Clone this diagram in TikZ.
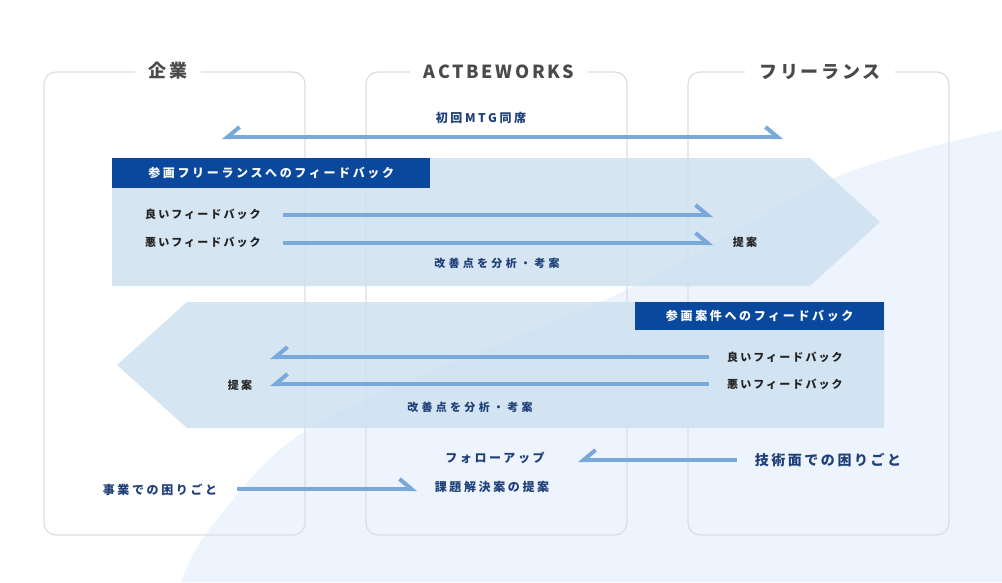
\documentclass[tikz,border=0pt]{standalone}
\usepackage{fontspec}
\setmainfont{Noto Sans CJK JP}
\usetikzlibrary{arrows.meta}
\definecolor{blob}{HTML}{EDF4FD}
\definecolor{chev}{HTML}{CEE2F0}
\definecolor{colline}{HTML}{DCDDE4}
\definecolor{ttlgray}{HTML}{4A4A4A}
\definecolor{navy}{HTML}{1F3F78}
\definecolor{darktext}{HTML}{222222}
\definecolor{hdrblue}{HTML}{0A489E}
\definecolor{arrblue}{HTML}{79A9DA}
\tikzset{
  colbox/.style={draw=colline, line width=1.2pt, rounded corners=12pt},
  ttl/.style={fill=white, text=ttlgray, inner xsep=14pt, inner ysep=2pt,
    font=\bfseries\fontsize{18}{20}\selectfont\addfontfeatures{LetterSpace=15}},
  chevron/.style={fill=chev, fill opacity=0.85},
  hdrbox/.style={fill=hdrblue, text=white, inner sep=0pt, anchor=north west,
    font=\bfseries\fontsize{12}{14}\selectfont\addfontfeatures{LetterSpace=22}},
  lab/.style={text=darktext, inner sep=0pt,
    font=\bfseries\fontsize{11}{13}\selectfont\addfontfeatures{LetterSpace=19}},
  nvs/.style={text=navy, inner sep=0pt,
    font=\bfseries\fontsize{11}{13}\selectfont\addfontfeatures{LetterSpace=30}},
  nvm/.style={text=navy, inner sep=0pt,
    font=\bfseries\fontsize{12}{14}\selectfont\addfontfeatures{LetterSpace=22}},
  nvl/.style={text=navy, inner sep=0pt,
    font=\bfseries\fontsize{14}{16}\selectfont\addfontfeatures{LetterSpace=18}},
  arr/.style={draw=arrblue, line width=4pt},
  harpR/.style={-{Straight Barb[harpoon,length=12pt,width=20pt]}},
  harpL/.style={-{Straight Barb[harpoon,swap,length=12pt,width=20pt]}},
  harpB/.style={{Straight Barb[harpoon,swap,length=12pt,width=20pt]}-{Straight Barb[harpoon,length=12pt,width=20pt]}},
}
\begin{document}
\begin{tikzpicture}[x=1pt,y=-1pt]
\useasboundingbox (0,0) rectangle (1002,582);
\fill[white] (0,0) rectangle (1002,582);
% background blob
\fill[blob] plot[smooth, tension=0.55] coordinates {(181,582) (215,522) (323,420) (620,293) (837,177) (1002,130)} -- (1002,582) -- cycle;

% columns
\draw[colbox] (44,72) rectangle (305,535);
\draw[colbox] (366,72) rectangle (627,535);
\draw[colbox] (688,72) rectangle (949,535);
\node[ttl] (tA) at (168,71) {企業};
\node[ttl] (tB) at (499,72) {ACTBEWORKS};
\node[ttl] (tC) at (820,72) {フリーランス};

% top arrow
\node[nvm] (mtg) at (481,118) {初回MTG同席};
\coordinate (ms) at (222,137);
\coordinate (me) at (783,137);
\draw[arr, harpB] (ms) -- (me);

% chevron 1
\fill[chevron] (112,158) -- (810,158) -- (880,222) -- (810,286) -- (112,286) -- cycle;
\node[hdrbox, minimum width=318pt, minimum height=30pt] (h1) at (112,158) {参画フリーランスへのフィードバック};
\node[lab, anchor=west] (g1) at (145,214) {良いフィードバック};
\node[lab, anchor=west] (b1) at (145,242) {悪いフィードバック};
\node[lab] (p1) at (745,242) {提案};
\node[nvs] (k1) at (497,263) {改善点を分析・考案};
\coordinate (g1s) at (283,215);
\coordinate (g1e) at (713,215);
\coordinate (b1s) at (283,243);
\coordinate (b1e) at (713,243);
\draw[arr, harpR] (g1s) -- (g1e);
\draw[arr, harpR] (b1s) -- (b1e);

% chevron 2
\fill[chevron] (187,302) -- (884,302) -- (884,428) -- (187,428) -- (117,365) -- cycle;
\node[hdrbox, minimum width=249pt, minimum height=28pt] (h2) at (635,302) {参画案件へのフィードバック};
\node[lab, anchor=west] (g2) at (727,357) {良いフィードバック};
\node[lab, anchor=west] (b2) at (727,384) {悪いフィードバック};
\node[lab] (p2) at (240,385) {提案};
\node[nvs] (k2) at (470,407) {改善点を分析・考案};
\coordinate (g2s) at (709,357);
\coordinate (g2e) at (270,357);
\coordinate (b2s) at (709,384);
\coordinate (b2e) at (270,384);
\draw[arr, harpL] (g2s) -- (g2e);
\draw[arr, harpL] (b2s) -- (b2e);

% bottom
\node[nvm] (fu) at (495,458) {フォローアップ};
\node[nvm] (kd) at (492,487) {課題解決案の提案};
\node[nvl] (gj) at (828,460) {技術面での困りごと};
\node[nvm] (jg) at (160,490) {事業での困りごと};
\coordinate (gjs) at (737,460);
\coordinate (gje) at (578,460);
\coordinate (jgs) at (237,489);
\coordinate (jge) at (417,489);
\draw[arr, harpL] (gjs) -- (gje);
\draw[arr, harpR] (jgs) -- (jge);
\end{tikzpicture}
\end{document}
